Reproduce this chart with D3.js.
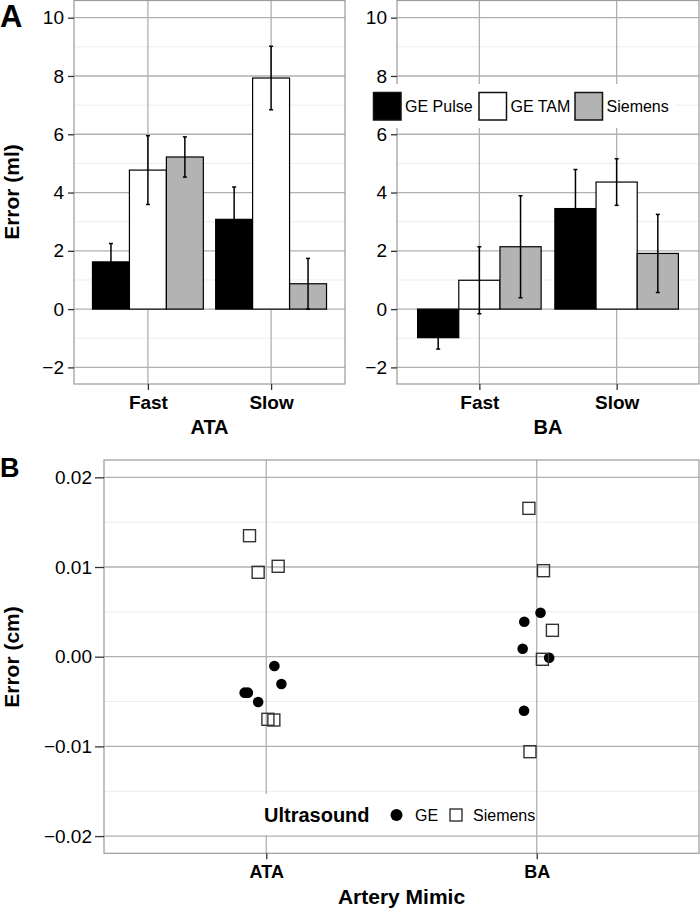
<!DOCTYPE html>
<html lang="en">
<head>
<meta charset="utf-8">
<title>Error by artery mimic</title>
<script src="https://cdn.jsdelivr.net/npm/d3@7"></script>
<style>
  body { margin: 0; background: #fff; }
  text { font-family: "Liberation Sans", Arial, Helvetica, sans-serif; }
</style>
</head>
<body>
<script>
// ---- data (panel A: bar heights and error half-widths, ml) ----
var speeds = ["Fast", "Slow"];
var devices = ["GE Pulse", "GE TAM", "Siemens"];
var deviceFill = ["#000000", "#ffffff", "#b3b3b3"];

var ataFast = [1.62, 4.77, 5.22];
var ataFastErr = [0.63, 1.18, 0.69];
var ataSlow = [3.08, 7.93, 0.87];
var ataSlowErr = [1.11, 1.09, 0.87];

var baFast = [-0.98, 0.99, 2.14];
var baFastErr = [0.39, 1.15, 1.75];
var baSlow = [3.45, 4.36, 1.91];
var baSlowErr = [1.34, 0.80, 1.34];

var yTicksA = [-2, 0, 2, 4, 6, 8, 10];
var yMinorA = [-1, 1, 3, 5, 7, 9];

// ---- data (panel B: point errors, cm, with horizontal jitter) ----
var mimics = ["ATA", "BA"];
var geATA = [-0.00104, -0.00304, -0.00401, -0.00401, -0.00505];
var geATAJit = [0.030, 0.056, -0.080, -0.068, -0.030];
var siemensATA = [0.01349, 0.00941, 0.01008, -0.00698, -0.00706];
var siemensATAJit = [-0.062, -0.030, 0.044, 0.006, 0.028];
var geBA = [0.0049, 0.0039, 0.00089, -0.00011, -0.00602];
var geBAJit = [0.014, -0.046, -0.052, 0.046, -0.047];
var siemensBA = [0.01654, 0.00959, 0.00294, -0.00029, -0.01059];
var siemensBAJit = [-0.029, 0.025, 0.058, 0.021, -0.025];

var yTicksB = [-0.02, -0.01, 0, 0.01, 0.02];
var yTickLabelsB = ["\u22120.02", "\u22120.01", "0.00", "0.01", "0.02"];
var yMinorB = [-0.015, -0.005, 0.005, 0.015];

// ---- style ----
var majorCol = "#b0b0b0", minorCol = "#ececec", borderCol = "#9a9a9a", tickCol = "#333";

var svg = d3.select("body").append("svg")
    .attr("width", 700).attr("height", 910);

function minus(v) { return v < 0 ? "\u2212" + Math.abs(v) : "" + v; }

function barPanel(opt) {
  var x = d3.scalePoint().domain(speeds).range([opt.left, opt.right]).padding(0.6);
  var y = d3.scaleLinear().domain([-2.57, 10.59]).range([opt.bottom, opt.top]);
  var step = x.step();
  var bw = 0.3 * step;
  var g = svg.append("g");

  g.selectAll(".minor").data(yMinorA).enter().append("line")
    .attr("x1", opt.left).attr("x2", opt.right)
    .attr("y1", function (d) { return y(d); }).attr("y2", function (d) { return y(d); })
    .attr("stroke", minorCol).attr("stroke-width", 1);
  g.selectAll(".major").data(yTicksA).enter().append("line")
    .attr("x1", opt.left).attr("x2", opt.right)
    .attr("y1", function (d) { return y(d); }).attr("y2", function (d) { return y(d); })
    .attr("stroke", majorCol).attr("stroke-width", 1.3);
  g.selectAll(".vmajor").data(speeds).enter().append("line")
    .attr("x1", function (d) { return x(d); }).attr("x2", function (d) { return x(d); })
    .attr("y1", opt.top).attr("y2", opt.bottom)
    .attr("stroke", majorCol).attr("stroke-width", 1.3);

  var rows = [];
  speeds.forEach(function (s, si) {
    devices.forEach(function (dv, di) {
      rows.push({ speed: s, dev: di, v: opt.means[si][di], e: opt.errs[si][di] });
    });
  });

  g.selectAll(".bar").data(rows).enter().append("rect")
    .attr("x", function (d) { return x(d.speed) + (d.dev - 1.5) * bw; })
    .attr("width", bw)
    .attr("y", function (d) { return y(Math.max(0, d.v)); })
    .attr("height", function (d) { return Math.abs(y(d.v) - y(0)); })
    .attr("fill", function (d) { return deviceFill[d.dev]; })
    .attr("stroke", "#000").attr("stroke-width", 1.2);

  var eb = g.selectAll(".err").data(rows).enter().append("g")
    .attr("stroke", "#000").attr("stroke-width", 1.5);
  function cx(d) { return x(d.speed) + (d.dev - 1) * bw; }
  eb.append("line")
    .attr("x1", cx).attr("x2", cx)
    .attr("y1", function (d) { return y(d.v + d.e); })
    .attr("y2", function (d) { return y(d.v - d.e); });
  eb.append("line")
    .attr("x1", function (d) { return cx(d) - 2; }).attr("x2", function (d) { return cx(d) + 2; })
    .attr("y1", function (d) { return y(d.v + d.e); }).attr("y2", function (d) { return y(d.v + d.e); });
  eb.append("line")
    .attr("x1", function (d) { return cx(d) - 2; }).attr("x2", function (d) { return cx(d) + 2; })
    .attr("y1", function (d) { return y(d.v - d.e); }).attr("y2", function (d) { return y(d.v - d.e); });

  g.append("rect")
    .attr("x", opt.left).attr("y", opt.top)
    .attr("width", opt.right - opt.left).attr("height", opt.bottom - opt.top)
    .attr("fill", "none").attr("stroke", borderCol).attr("stroke-width", 1.2);

  var ya = d3.axisLeft(y).tickValues(yTicksA).tickSize(6).tickPadding(4).tickFormat(minus);
  var ga = g.append("g").attr("transform", "translate(" + opt.left + ",0)").call(ya);
  ga.select(".domain").remove();
  ga.selectAll("line").attr("stroke", tickCol).attr("stroke-width", 1.3);
  ga.selectAll("text").attr("font-size", 19).attr("fill", "#000");

  var xa = d3.axisBottom(x).tickSize(6).tickPadding(6);
  var gx = g.append("g").attr("transform", "translate(0," + opt.bottom + ")").call(xa);
  gx.select(".domain").remove();
  gx.selectAll("line").attr("stroke", tickCol).attr("stroke-width", 1.3);
  gx.selectAll("text").attr("font-size", 19).attr("font-weight", "bold").attr("fill", "#000");

  g.append("text").attr("x", (opt.left + opt.right) / 2).attr("y", 434)
    .attr("text-anchor", "middle").attr("font-size", 20).attr("font-weight", "bold")
    .text(opt.title);
  return { x: x, y: y };
}

barPanel({ left: 74, right: 345, top: 0.5, bottom: 384, title: "ATA",
  means: [ataFast, ataSlow], errs: [ataFastErr, ataSlowErr] });
barPanel({ left: 397, right: 699, top: 0.5, bottom: 384, title: "BA",
  means: [baFast, baSlow], errs: [baFastErr, baSlowErr] });

// y title and panel letter A
svg.append("text").attr("transform", "translate(19,192) rotate(-90)")
  .attr("text-anchor", "middle").attr("font-size", 21).attr("font-weight", "bold")
  .text("Error (ml)");
svg.append("text").attr("x", 0).attr("y", 27)
  .attr("font-size", 31).attr("font-weight", "bold").text("A");

// legend for panel A
var legA = svg.append("g");
legA.append("rect").attr("x", 369).attr("y", 84).attr("width", 306).attr("height", 44).attr("fill", "#fff");
var legX = [373, 478.5, 574.5];
devices.forEach(function (dv, i) {
  legA.append("rect").attr("x", legX[i] + 0.5).attr("y", 92.5).attr("width", 27.5).attr("height", 27.5)
    .attr("fill", deviceFill[i]).attr("stroke", "#111").attr("stroke-width", 1.5);
  legA.append("text").attr("x", legX[i] + 32).attr("y", 112)
    .attr("font-size", 16).text(dv);
});

// ---- panel B ----
var bL = 104, bR = 699, bT = 460, bB = 853.3;
var xB = d3.scalePoint().domain(mimics).range([bL, bR]).padding(0.6);
var yB = d3.scaleLinear().domain([-0.02192, 0.02193]).range([bB, bT]);
var gB = svg.append("g");

gB.selectAll(".minor").data(yMinorB).enter().append("line")
  .attr("x1", bL).attr("x2", bR)
  .attr("y1", function (d) { return yB(d); }).attr("y2", function (d) { return yB(d); })
  .attr("stroke", minorCol).attr("stroke-width", 1);
gB.selectAll(".major").data(yTicksB).enter().append("line")
  .attr("x1", bL).attr("x2", bR)
  .attr("y1", function (d) { return yB(d); }).attr("y2", function (d) { return yB(d); })
  .attr("stroke", majorCol).attr("stroke-width", 1.3);
gB.selectAll(".vmajor").data(mimics).enter().append("line")
  .attr("x1", function (d) { return xB(d); }).attr("x2", function (d) { return xB(d); })
  .attr("y1", bT).attr("y2", bB)
  .attr("stroke", majorCol).attr("stroke-width", 1.3);

function pts(mimic, vals, jit) {
  return vals.map(function (v, i) { return { m: mimic, v: v, j: jit[i] }; });
}
var gePts = pts("ATA", geATA, geATAJit).concat(pts("BA", geBA, geBAJit));
var siePts = pts("ATA", siemensATA, siemensATAJit).concat(pts("BA", siemensBA, siemensBAJit));
var stepB = xB.step();

gB.selectAll(".ge").data(gePts).enter().append("circle")
  .attr("cx", function (d) { return xB(d.m) + d.j * stepB; })
  .attr("cy", function (d) { return yB(d.v); })
  .attr("r", 5.3).attr("fill", "#000");
gB.selectAll(".sie").data(siePts).enter().append("rect")
  .attr("x", function (d) { return xB(d.m) + d.j * stepB - 6; })
  .attr("y", function (d) { return yB(d.v) - 6; })
  .attr("width", 12).attr("height", 12)
  .attr("fill", "none").attr("stroke", "#333").attr("stroke-width", 1.4);

// legend for panel B
var legB = gB.append("g");
legB.append("rect").attr("x", 258).attr("y", 794).attr("width", 256).attr("height", 41).attr("fill", "#fff");
legB.append("text").attr("x", 264).attr("y", 822).attr("font-size", 20).attr("font-weight", "bold").text("Ultrasound");
legB.append("circle").attr("cx", 396.5).attr("cy", 815).attr("r", 6).attr("fill", "#000");
legB.append("text").attr("x", 415).attr("y", 821).attr("font-size", 16).text("GE");
legB.append("rect").attr("x", 450).attr("y", 809).attr("width", 12).attr("height", 12)
  .attr("fill", "none").attr("stroke", "#333").attr("stroke-width", 1.4);
legB.append("text").attr("x", 473).attr("y", 821).attr("font-size", 16).text("Siemens");

gB.append("rect").attr("x", bL).attr("y", bT).attr("width", bR - bL).attr("height", bB - bT)
  .attr("fill", "none").attr("stroke", borderCol).attr("stroke-width", 1.2);

var yaB = d3.axisLeft(yB).tickValues(yTicksB).tickSize(9).tickPadding(3)
  .tickFormat(function (d, i) { return yTickLabelsB[i]; });
var gyB = gB.append("g").attr("transform", "translate(" + bL + ",0)").call(yaB);
gyB.select(".domain").remove();
gyB.selectAll("line").attr("stroke", tickCol).attr("stroke-width", 1.3);
gyB.selectAll("text").attr("font-size", 19).attr("fill", "#000");

var xaB = d3.axisBottom(xB).tickSize(6).tickPadding(6);
var gxB = gB.append("g").attr("transform", "translate(0," + bB + ")").call(xaB);
gxB.select(".domain").remove();
gxB.selectAll("line").attr("stroke", tickCol).attr("stroke-width", 1.3);
gxB.selectAll("text").attr("font-size", 18).attr("font-weight", "bold").attr("fill", "#000");

svg.append("text").attr("x", (bL + bR) / 2).attr("y", 904)
  .attr("text-anchor", "middle").attr("font-size", 21).attr("font-weight", "bold")
  .text("Artery Mimic");
svg.append("text").attr("transform", "translate(19,657) rotate(-90)")
  .attr("text-anchor", "middle").attr("font-size", 21).attr("font-weight", "bold")
  .text("Error (cm)");
svg.append("text").attr("x", 0).attr("y", 477)
  .attr("font-size", 27).attr("font-weight", "bold").text("B");
</script>
</body>
</html>
